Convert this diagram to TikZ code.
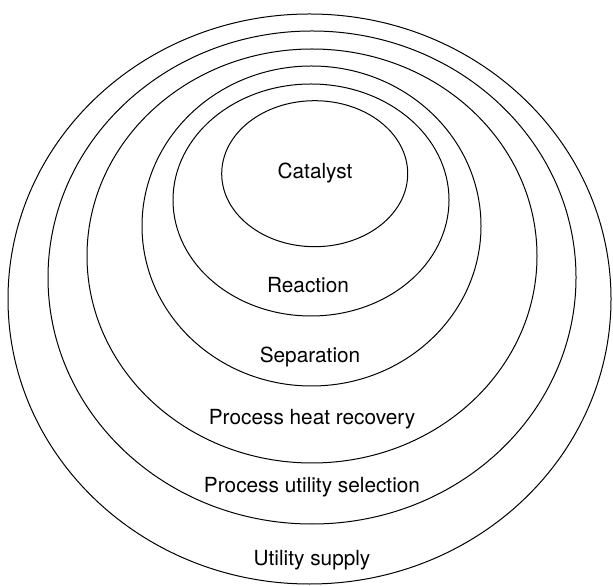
\documentclass[tikz,border=0pt]{standalone}
\usepackage{fontspec}
\setmainfont{TeX Gyre Heros}
\begin{document}
\begin{tikzpicture}[x=0.75pt,y=0.75pt,
		ring/.style={line width=0.75pt},
		lbl/.style={font=\fontsize{15.6}{18}\selectfont,inner sep=0pt}]
		\useasboundingbox (0,0) rectangle (613,585);
		% nested layers, outermost first
		\draw[ring] (309.5,286) ellipse [x radius=301.5,y radius=285];
		\draw[ring] (312,307.5) ellipse [x radius=264,y radius=246.5];
		\draw[ring] (312,329) ellipse [x radius=225,y radius=207];
		\draw[ring] (311.5,359) ellipse [x radius=169.5,y radius=160];
		\draw[ring] (311,385) ellipse [x radius=138,y radius=116];
		\draw[ring] (314.7,411.3) ellipse [x radius=93,y radius=73];
		% layer names
		\node[lbl] (catalyst) at (315,412) {Catalyst};
		\node[lbl] (reaction) at (308,300) {Reaction};
		\node[lbl] (separation) at (310,228) {Separation};
		\node[lbl] (heat) at (312,166) {Process heat recovery};
		\node[lbl] (utilsel) at (312,98) {Process utility selection};
		\node[lbl] (supply) at (312,25) {Utility supply};
	\end{tikzpicture}
\end{document}
